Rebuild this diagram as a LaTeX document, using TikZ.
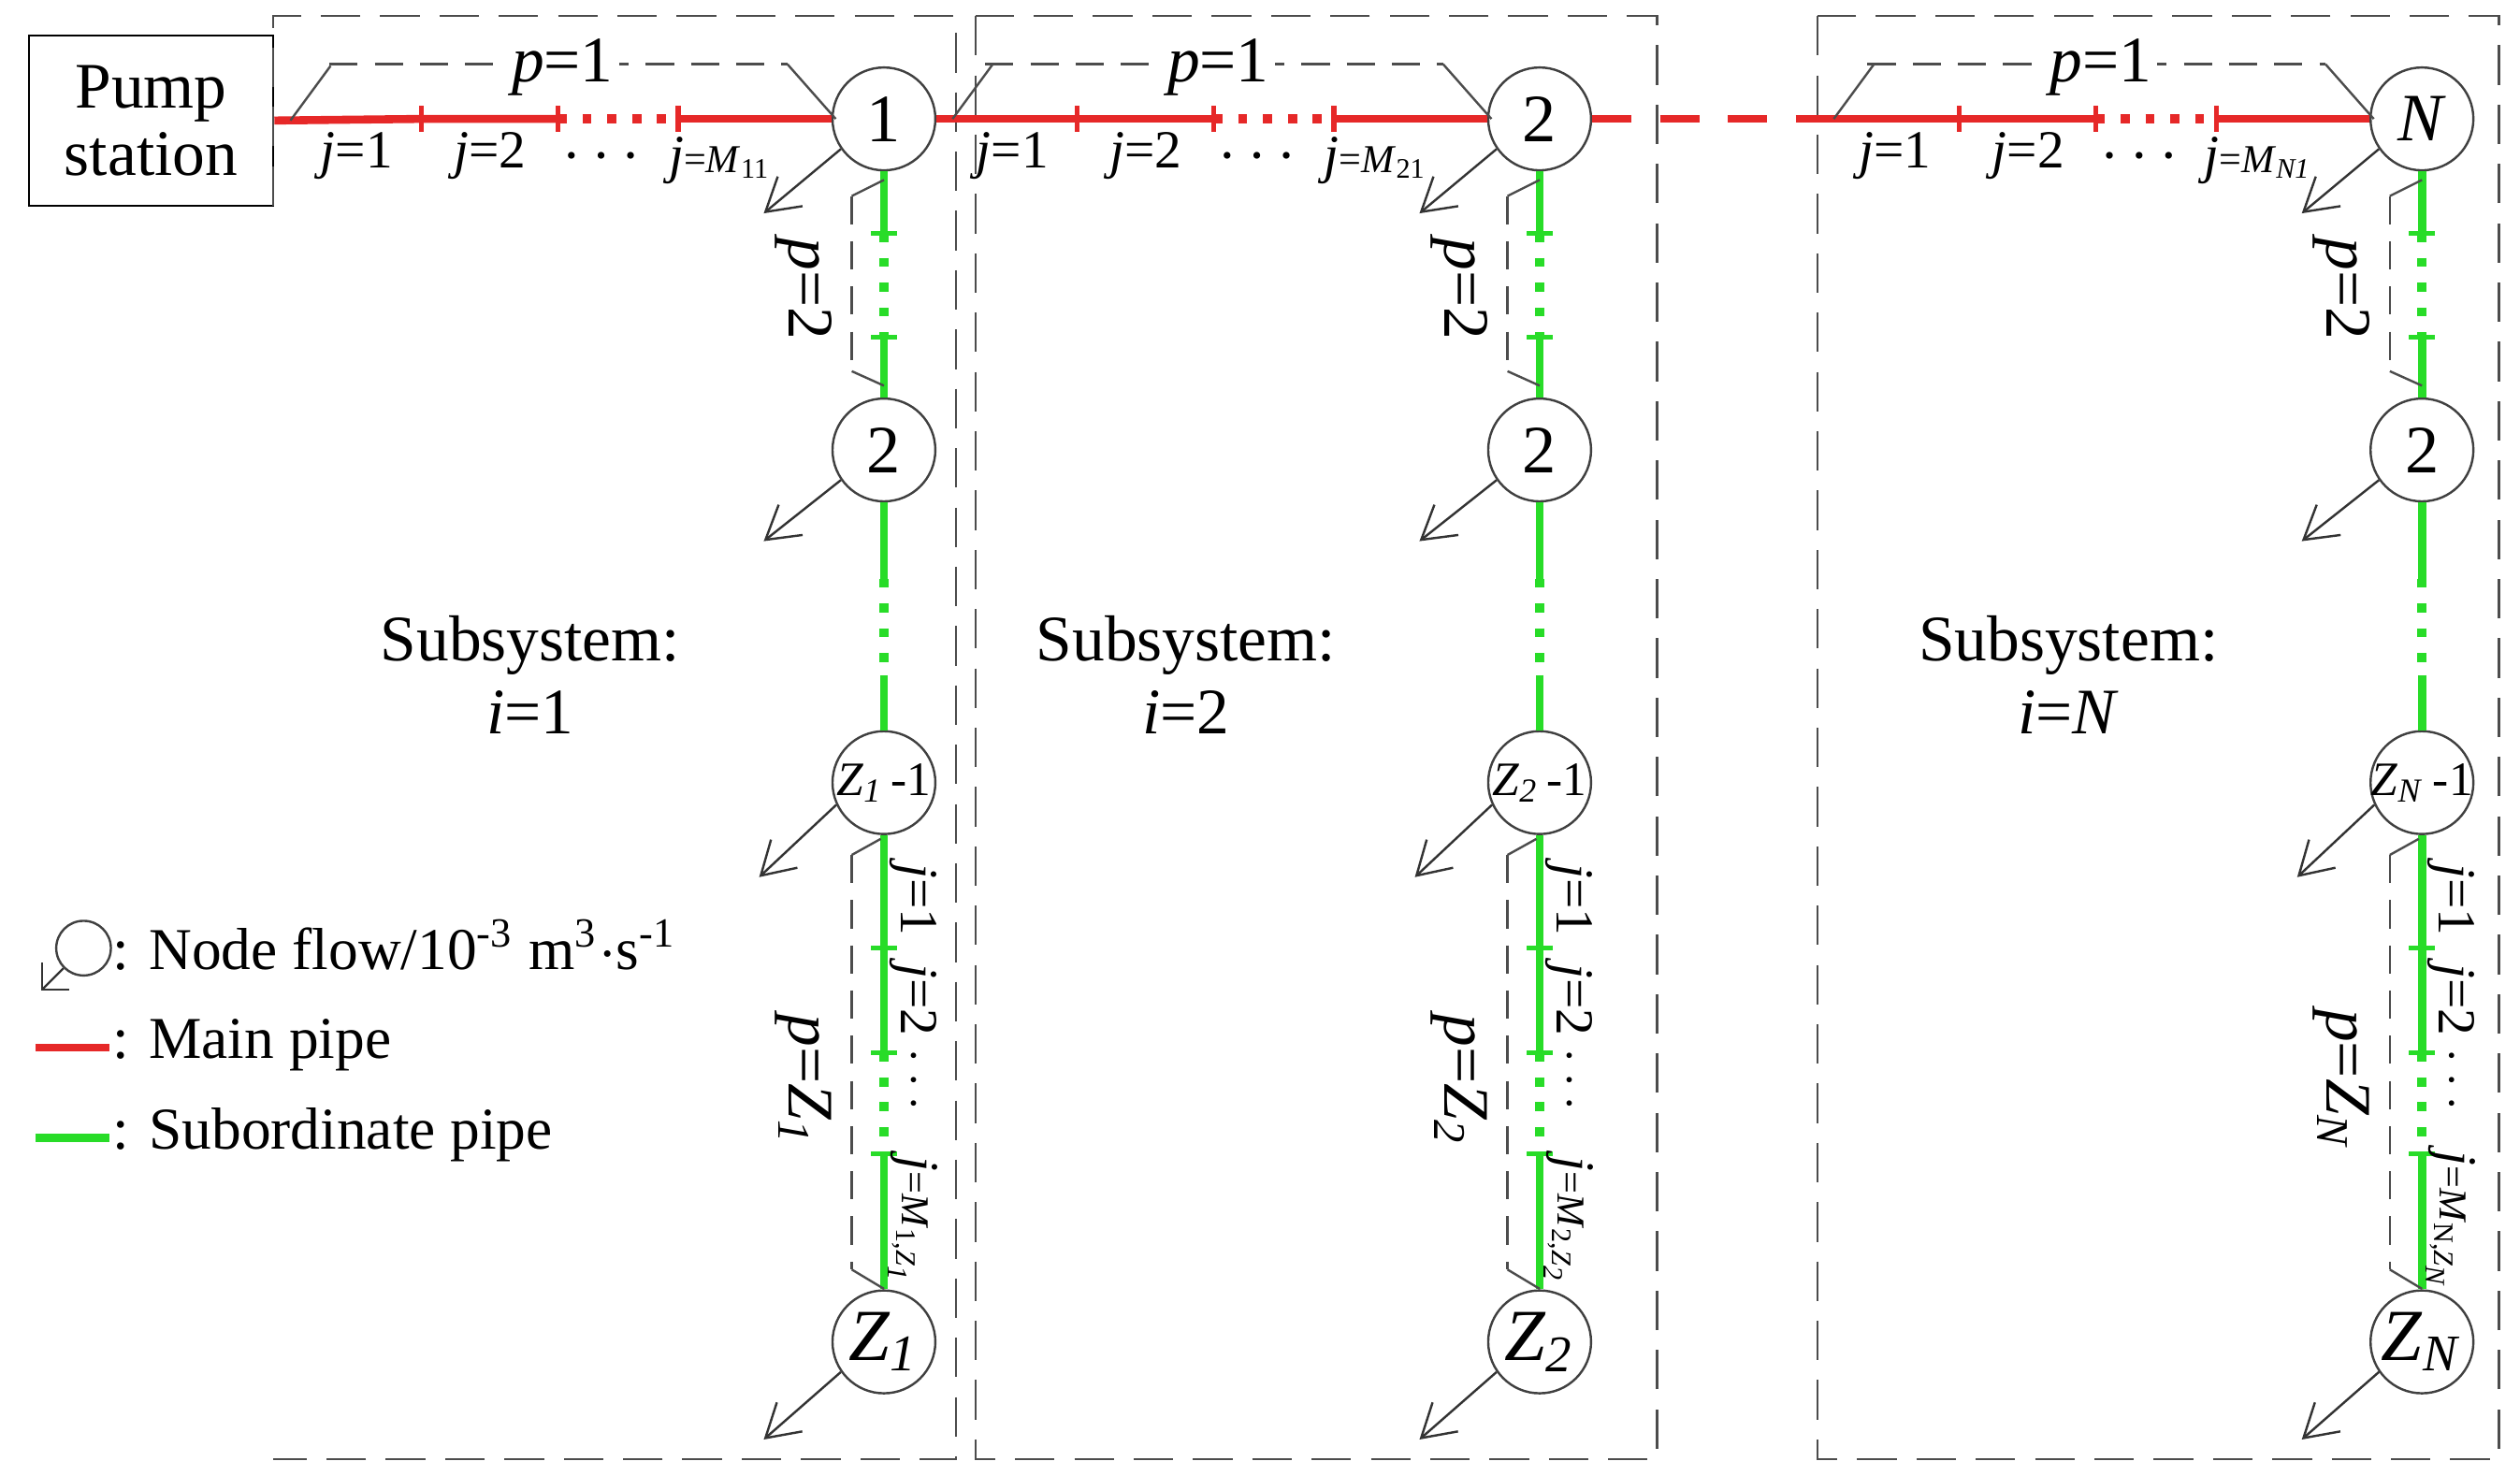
\documentclass[tikz,border=0pt]{standalone}
\usepackage{fontspec}
\setmainfont{Liberation Serif}
\usetikzlibrary{positioning, arrows.meta}

\definecolor{mainred}{RGB}{230,40,40}
\definecolor{subgreen}{RGB}{40,220,40}

\newcommand{\vi}[1]{\textit{#1}}
\newcommand{\zsub}[1]{\textit{Z}\textsubscript{\textit{#1}}}
\newcommand{\pipedots}{{\tiny\textbullet}\hspace{3.5pt}{\tiny\textbullet}\hspace{3.5pt}{\tiny\textbullet}}

\tikzset{
  junction/.style={circle, draw=black!75, thin, minimum size=6.4mm, inner sep=0pt, font=\fontsize{12}{13}\selectfont},
  main/.style={mainred, line width=0.5mm},
  sub/.style={subgreen, line width=0.5mm},
  dotpipe/.style={line width=0.55mm, dash pattern=on 1.6pt off 2.8pt},
  tick/.style={line width=0.3mm},
  brace/.style={black!70, thin},
  bracedash/.style={black!70, thin, dash pattern=on 5pt off 3pt},
  region/.style={black!70, thin, dash pattern=on 7pt off 3.5pt},
  flow/.style={black!80, thin, -{Straight Barb[length=2mm,width=2.4mm]}},
  lab/.style={font=\fontsize{9.5}{10}\selectfont, inner sep=1pt},
  big/.style={font=\fontsize{11.5}{13}\selectfont, align=center}
}

\begin{document}
\begin{tikzpicture}[x=0.1mm, y=-0.1mm]
   \useasboundingbox (0,0) rectangle (1568,918);

   % Pump station
   \node[draw, thin, minimum width=15.2mm, minimum height=10.6mm, big, inner sep=0pt] (pump) at (94,75) {Pump\\[-1pt]station};

   % Subsystem regions
   \draw[region] (170,128) -- (170,10) -- (595,10) -- (595,908) -- (170,908);
   \draw[region] (607,10) rectangle (1031,908);
   \draw[region] (1131,10) rectangle (1555,908);

   \coordinate (gap3) at (1131,74);

   \foreach \c/\dx/\start/\top/\zi/\mm/\ii in {
       1/0/pump.east/1/1/11/1,
       2/408/top1.east/2/2/21/2,
       3/957/gap3/\vi{N}/N/\vi{N1}/\vi{N}} {
     \begin{scope}[shift={(\dx,0)}]
       % nodes
       \node[junction] (top\c) at (550,74) {\top};
       \node[junction] (mid\c) at (550,280) {2};
       \node[junction, inner sep=-4pt, font=\fontsize{8.5}{10}\selectfont] (zm\c) at (550,487) {\zsub{\zi}\,-1};
       \node[junction, font=\fontsize{13}{14}\selectfont] (z\c) at (550,835) {\zsub{\zi}};

       % main pipe
       \coordinate (a\c) at (262,74);
       \coordinate (b\c) at (347,74);
       \coordinate (c\c) at (422,74);
       \draw[main] (\start) -- (a\c) -- (b\c);
       \draw[mainred, dotpipe] (b\c) -- (c\c);
       \draw[main] (c\c) -- (top\c.west);
       \foreach \t in {a,b,c}
         \draw[mainred, tick] ([yshift=-0.8mm]\t\c) -- ([yshift=0.8mm]\t\c);

       % subordinate pipe
       \coordinate (v1\c) at (550,145);
       \coordinate (v2\c) at (550,210);
       \coordinate (v3\c) at (550,360);
       \coordinate (v4\c) at (550,420);
       \coordinate (w1\c) at (550,590);
       \coordinate (w2\c) at (550,655);
       \coordinate (w3\c) at (550,718);
       \draw[sub] (top\c.south) -- (v1\c);
       \draw[subgreen, dotpipe] (v1\c) -- (v2\c);
       \draw[sub] (v2\c) -- (mid\c.north);
       \draw[sub] (mid\c.south) -- (v3\c);
       \draw[subgreen, dotpipe] (v3\c) -- (v4\c);
       \draw[sub] (v4\c) -- (zm\c.north);
       \draw[sub] (zm\c.south) -- (w1\c) -- (w2\c);
       \draw[subgreen, dotpipe] (w2\c) -- (w3\c);
       \draw[sub] (w3\c) -- (z\c.north);
       \foreach \t in {v1,v2,w1,w2,w3}
         \draw[subgreen, tick] ([xshift=-0.8mm]\t\c) -- ([xshift=0.8mm]\t\c);

       % node flows
       \draw[flow] (top\c.215) -- ++(-48,40);
       \draw[flow] (mid\c.215) -- ++(-48,38);
       \draw[flow] (zm\c.205) -- ++(-48,45);
       \draw[flow] (z\c.215) -- ++(-48,42);

       % p=1
       \draw[brace] (\start) ++(10,0) -- ++(25,-34);
       \draw[bracedash] (205,40) -- (490,40);
       \draw[brace] (490,40) -- (520,74);
       \node[fill=white, big, inner sep=1pt] at (350,42) {\vi{p}=1};
       \node[lab] at (222,97) {\vi{j}=1};
       \node[lab] at (305,97) {\vi{j}=2};
       \node[lab] at (374,99) {\pipedots};
       \node[lab] at (448,100) {\vi{j}{\scriptsize=\vi{M}\textsubscript{\mm}}};

       % p=2
       \draw[brace] (550,112) -- (530,122);
       \draw[bracedash] (530,122) -- (530,231);
       \draw[brace] (530,231) -- (550,240);
       \node[big, rotate=-90] at (500,180) {\vi{p}=2};

       % p=Z
       \draw[brace] (548,522) -- (530,532);
       \draw[bracedash] (530,532) -- (530,790);
       \draw[brace] (530,790) -- (550,802);
       \node[big, rotate=-90, fill=white, inner sep=1pt] at (500,672) {\vi{p}=\zsub{\zi}};
       \node[lab, rotate=-90] at (568,560) {\vi{j}=1};
       \node[lab, rotate=-90] at (568,622) {\vi{j}=2};
       \node[lab, rotate=-90, scale=0.8] at (567,672) {\pipedots};
       \node[lab, rotate=-90] at (568,760) {\vi{j}{\scriptsize=\vi{M}\textsubscript{\zi,\zsub{\zi}}}};

       % subsystem label
       \node[big] at (330,420) {Subsystem:\\\vi{i}=\ii};
     \end{scope}
   }

   % main pipe gap to last subsystem
   \draw[mainred, line width=0.5mm, dash pattern=on 7pt off 5pt] (top2.east) -- (gap3);

   % legend
   \node[circle, draw=black!75, thin, minimum size=3.4mm, inner sep=0pt] (lgc) at (52,590) {};
   \draw[black!80, thin, -{Straight Barb[length=1.2mm]}] (lgc.225) -- ++(-14,14);
   \node[lab, anchor=west, font=\fontsize{10.5}{12}\selectfont] (lgn) at (66,588) {: Node flow/10\textsuperscript{-3} m\textsuperscript{3}$\cdot$s\textsuperscript{-1}};
   \coordinate (r1) at (22,652);
   \coordinate (r2) at (68,652);
   \draw[main] (r1) -- (r2);
   \node[lab, anchor=west, font=\fontsize{10.5}{12}\selectfont] (lgm) at (66,650) {: Main pipe};
   \coordinate (g1) at (22,708);
   \coordinate (g2) at (68,708);
   \draw[sub] (g1) -- (g2);
   \node[lab, anchor=west, font=\fontsize{10.5}{12}\selectfont] (lgs) at (66,706) {: Subordinate pipe};
\end{tikzpicture}
\end{document}
